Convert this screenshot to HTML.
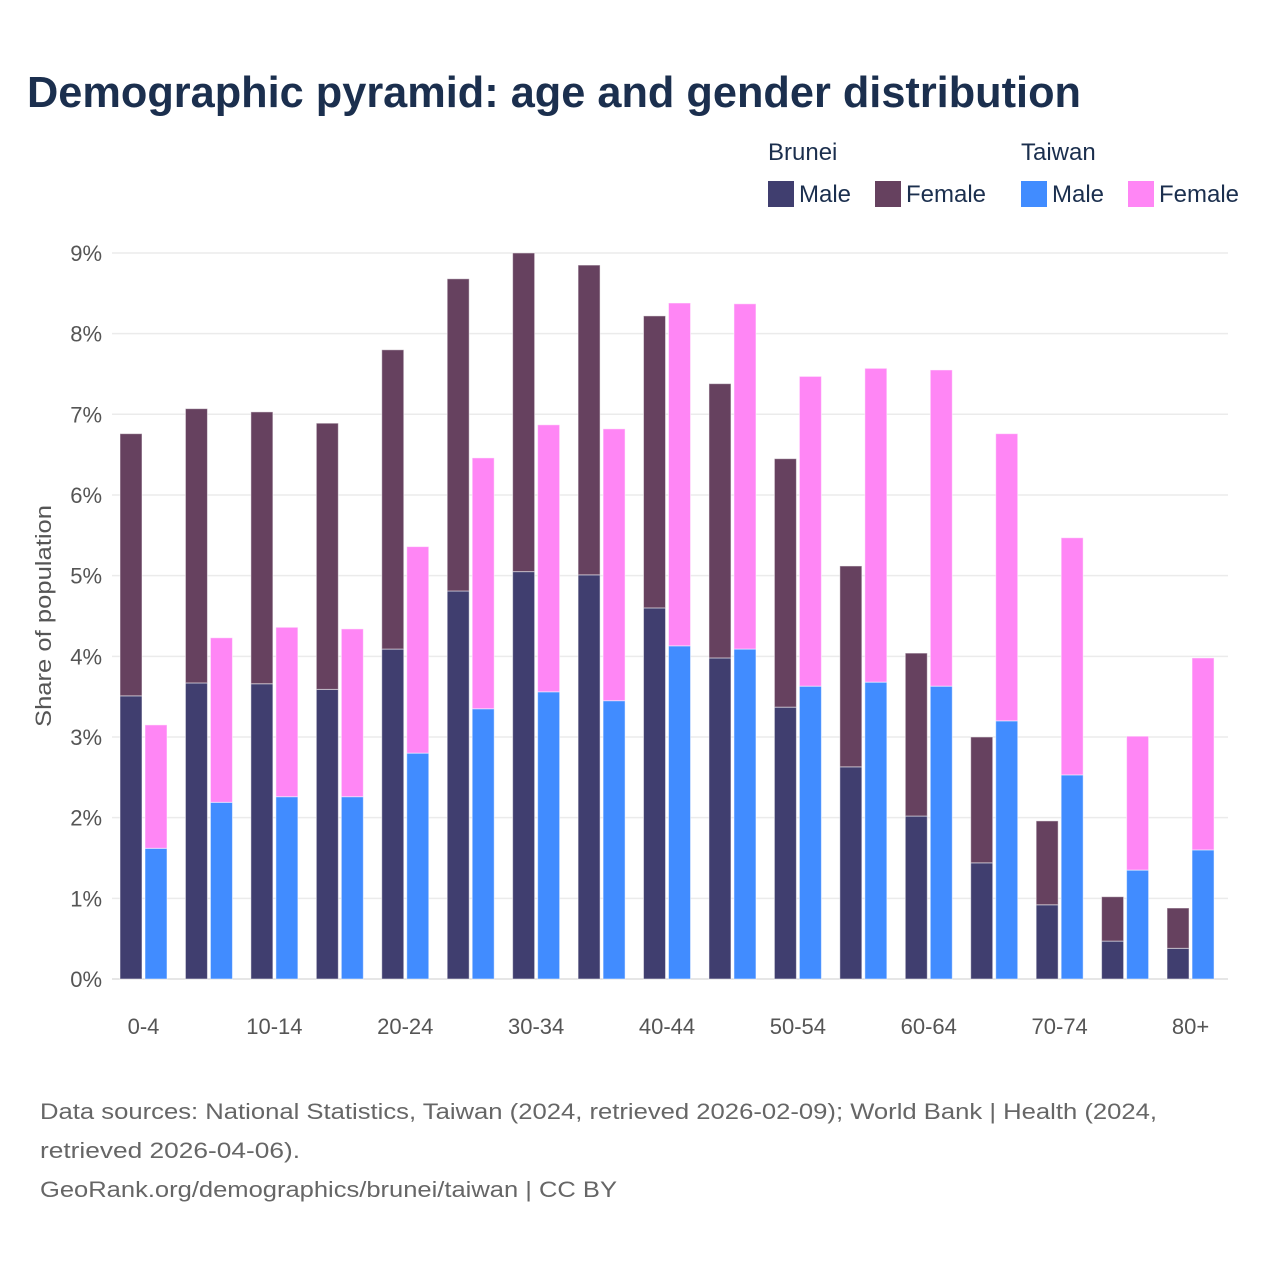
<!DOCTYPE html>
<html><head><meta charset="utf-8"><style>
body{margin:0;background:#fff;font-family:"Liberation Sans",sans-serif}
</style></head><body>
<svg width="1280" height="1280" viewBox="0 0 1280 1280" xmlns="http://www.w3.org/2000/svg" font-family="Liberation Sans, sans-serif">
<rect width="1280" height="1280" fill="#fff"/>
<text x="27" y="107" font-size="44" font-weight="bold" fill="#1b2f4e" textLength="1054" lengthAdjust="spacingAndGlyphs">Demographic pyramid: age and gender distribution</text>
<g font-size="24" fill="#1b2f4e">
<text x="768" y="160">Brunei</text>
<text x="1021" y="160">Taiwan</text>
<rect x="768" y="181" width="26" height="26" fill="#403e6f"/>
<text x="799" y="202">Male</text>
<rect x="875" y="181" width="26" height="26" fill="#66415f"/>
<text x="906" y="202">Female</text>
<rect x="1021" y="181" width="26" height="26" fill="#418cff"/>
<text x="1052" y="202">Male</text>
<rect x="1128" y="181" width="26" height="26" fill="#ff86f5"/>
<text x="1159" y="202">Female</text>
</g>
<g id="grid"></g>
<g id="yticks" font-size="22" fill="#555" text-anchor="end"></g>
<g id="bars"></g>
<g id="xticks" font-size="22" fill="#555" text-anchor="middle"></g>
<text transform="translate(51,616) rotate(-90)" font-size="22" fill="#555" text-anchor="middle" textLength="222" lengthAdjust="spacingAndGlyphs">Share of population</text>
<g font-size="22" fill="#666">
<text x="40" y="1119" textLength="1117" lengthAdjust="spacingAndGlyphs">Data sources: National Statistics, Taiwan (2024, retrieved 2026-02-09); World Bank | Health (2024,</text>
<text x="40" y="1158" textLength="260" lengthAdjust="spacingAndGlyphs">retrieved 2026-04-06).</text>
<text x="40" y="1197" textLength="577" lengthAdjust="spacingAndGlyphs">GeoRank.org/demographics/brunei/taiwan | CC BY</text>
</g>
</svg>
<script>
const categories=["0-4","5-9","10-14","15-19","20-24","25-29","30-34","35-39","40-44","45-49","50-54","55-59","60-64","65-69","70-74","75-79","80+"];
const bruneiMale=[3.51,3.67,3.66,3.59,4.09,4.81,5.05,5.01,4.60,3.98,3.37,2.63,2.02,1.44,0.92,0.47,0.38];
const bruneiTotal=[6.76,7.07,7.03,6.89,7.80,8.68,9.00,8.85,8.22,7.38,6.45,5.12,4.04,3.00,1.96,1.02,0.88];
const taiwanMale=[1.62,2.19,2.26,2.26,2.80,3.35,3.56,3.45,4.13,4.09,3.63,3.68,3.63,3.20,2.53,1.35,1.60];
const taiwanTotal=[3.15,4.23,4.36,4.34,5.36,6.46,6.87,6.82,8.38,8.37,7.47,7.57,7.55,6.76,5.47,3.01,3.98];
const bruneiFemale=bruneiTotal.map((t,i)=>+(t-bruneiMale[i]).toFixed(2));
const taiwanFemale=taiwanTotal.map((t,i)=>+(t-taiwanMale[i]).toFixed(2));
const yTicks=[0,1,2,3,4,5,6,7,8,9];
const xLabelIdx=[0,2,4,6,8,10,12,14,16];
const NS="http://www.w3.org/2000/svg";
const y=v=>979-v*80.67;
const xc=i=>143.5+i*65.44;
function mk(tag,attrs,parent){const e=document.createElementNS(NS,tag);for(const k in attrs)e.setAttribute(k,attrs[k]);parent.appendChild(e);return e;}
const grid=document.getElementById('grid'),yt=document.getElementById('yticks'),bars=document.getElementById('bars'),xt=document.getElementById('xticks');
yTicks.forEach(v=>{
 const l=mk('line',{x1:112,x2:1228,y1:y(v),y2:y(v),stroke:v===0?'#ddd':'#ebebeb','stroke-width':1.5},grid);
 
 
 const t=mk('text',{x:102,y:y(v)+8},yt);t.textContent=v+'%';
 
 
});
function bar(x,v0,v1,fill,name){
 const r=mk('rect',{x:x,y:y(v1),width:22,height:y(v0)-y(v1),fill:fill,stroke:'#fff','stroke-opacity':0.5,'stroke-width':1},bars);
 
 
}
categories.forEach((c,i)=>{
 const x=xc(i);
 bar(x-23.5,0,bruneiMale[i],'#403e6f','bar-brunei-male-'+c);
 bar(x-23.5,bruneiMale[i],bruneiMale[i]+bruneiFemale[i],'#66415f','bar-brunei-female-'+c);
 bar(x+1.5,0,taiwanMale[i],'#418cff','bar-taiwan-male-'+c);
 bar(x+1.5,taiwanMale[i],taiwanMale[i]+taiwanFemale[i],'#ff86f5','bar-taiwan-female-'+c);
});
xLabelIdx.forEach(i=>{
 const t=mk('text',{x:xc(i),y:1034},xt);t.textContent=categories[i];
 
 
});
</script>
</body></html>
